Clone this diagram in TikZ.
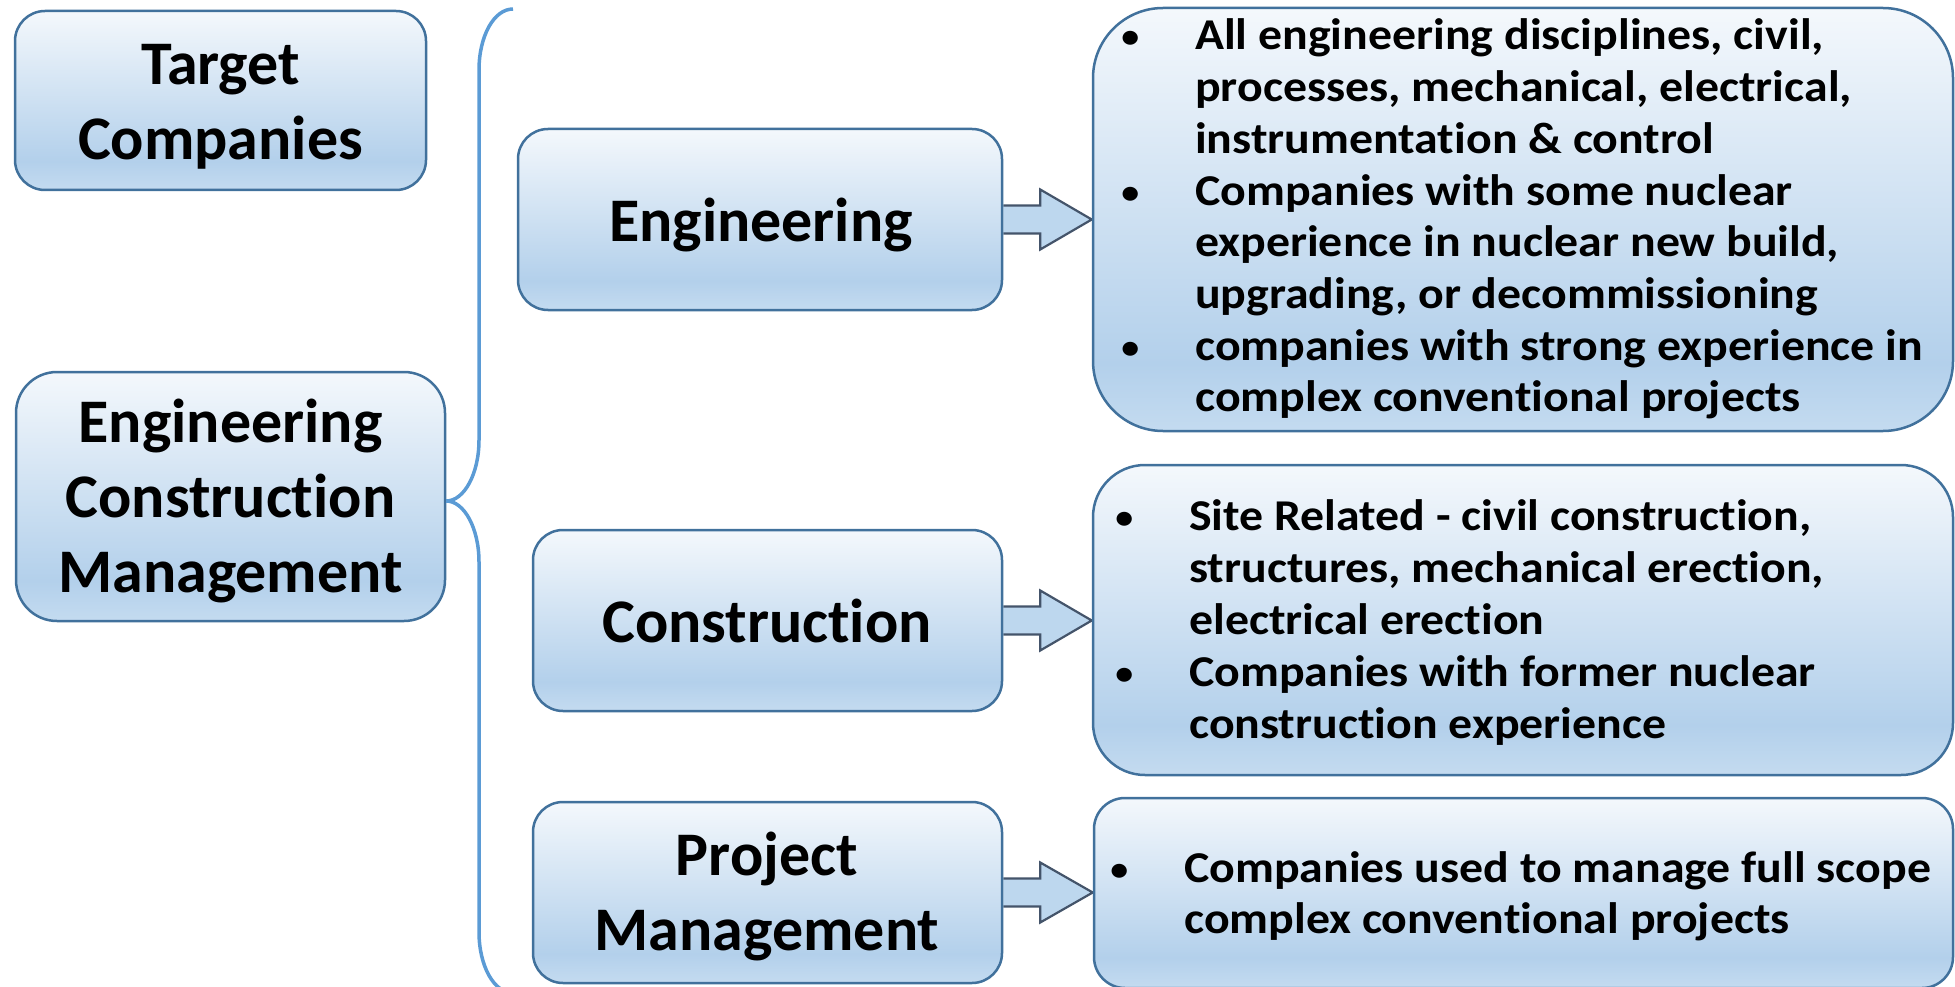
\documentclass[tikz,border=0pt]{standalone}
\usepackage{fontspec}
\setmainfont[Ligatures=NoCommon]{Carlito}
\newfontfamily\listfont[FakeStretch=1.087,Ligatures=NoCommon]{Carlito}
\usetikzlibrary{calc}
\definecolor{gTop}{HTML}{F4F8FC}
\definecolor{gMid}{HTML}{B3D0EB}
\definecolor{gBot}{HTML}{C4DBF0}
\definecolor{edgec}{HTML}{41719C}
\definecolor{bracec}{HTML}{5B9BD5}
\definecolor{arrfill}{HTML}{BDD7EE}
\definecolor{arredge}{HTML}{44546A}
\pgfdeclareverticalshading{boxgrad}{100bp}{color(0bp)=(gBot); color(25bp)=(gBot); color(33bp)=(gMid); color(75bp)=(gTop); color(100bp)=(gTop)}
\pgfdeclarelayer{bg}
\pgfsetlayers{bg,main}
\newcommand\bulmark{\makebox[65pt][l]{\makebox[0pt]{\raisebox{2pt}{\fontsize{33}{33}\selectfont •}}}}
\newcommand\contind{\hspace*{65pt}}
\tikzset{
 box/.style={draw=edgec, line width=2.5pt, shading=boxgrad, inner sep=0pt},
 bigtxt/.style={font=\fontsize{62}{75}\selectfont\bfseries, anchor=base, inner sep=0pt},
 listtxt/.style={font=\listfont\fontsize{44}{51.7}\selectfont\bfseries, anchor=base west, inner sep=0pt},
 blockarrow/.style={draw=arredge, fill=arrfill, line width=2.2pt, line join=miter},
 bracestyle/.style={draw=bracec, line width=3.5pt}
}
\begin{document}
\begin{tikzpicture}[x=1pt,y=-1pt]
\useasboundingbox (0,0) rectangle (1955,987);
% boxes
\node[box, rounded corners=30pt, minimum width=411pt, minimum height=179pt] (tc) at (220.5,100.5) {};
\node[box, rounded corners=41pt, minimum width=429pt, minimum height=249pt] (ecm) at (230.5,496.5) {};
\node[box, rounded corners=30pt, minimum width=484pt, minimum height=181pt] (eng) at (760,219.5) {};
\node[box, rounded corners=30pt, minimum width=469pt, minimum height=181pt] (con) at (767.5,620.5) {};
\node[box, rounded corners=30pt, minimum width=469pt, minimum height=181pt] (pm) at (767.5,892.5) {};
\node[box, rounded corners=70pt, minimum width=860pt, minimum height=423pt] (d1) at (1523,219.5) {};
\node[box, rounded corners=52pt, minimum width=860pt, minimum height=310pt] (d2) at (1523,620) {};
\node[box, rounded corners=31pt, minimum width=859pt, minimum height=190pt] (d3) at (1523.5,893) {};
% texts
\node[bigtxt] (tct) at (220.5,85) {\begin{tabular}[t]{@{}c@{}}Target\\Companies\end{tabular}};
\node[bigtxt] (ecmt) at (230.5,442) {\begin{tabular}[t]{@{}c@{}}Engineering\\Construction\\Management\end{tabular}};
\node[bigtxt] (engt) at (761,242) {Engineering};
\node[bigtxt] (cont) at (767,642) {Construction};
\node[bigtxt] (pmt) at (767,875) {\begin{tabular}[t]{@{}c@{}}Project\\Management\end{tabular}};
\node[listtxt] (d1t) at (1130,50) {\begin{tabular}[t]{@{}l@{}}
\bulmark All engineering disciplines, civil,\\
\contind processes, mechanical, electrical,\\
\contind instrumentation \& control\\
\bulmark Companies with some nuclear\\
\contind experience in nuclear new build,\\
\contind upgrading, or decommissioning\\
\bulmark companies with strong experience in\\
\contind complex conventional projects\end{tabular}};
\node[listtxt, font=\listfont\fontsize{44}{52}\selectfont\bfseries] (d2t) at (1124,530) {\begin{tabular}[t]{@{}l@{}}
\bulmark Site Related - civil construction,\\
\contind structures, mechanical erection,\\
\contind electrical erection\\
\bulmark Companies with former nuclear\\
\contind construction experience\end{tabular}};
\node[listtxt, font=\listfont\fontsize{44}{51}\selectfont\bfseries] (d3t) at (1119,882) {\begin{tabular}[t]{@{}l@{}}
\bulmark Companies used to manage full scope\\
\contind complex conventional projects\end{tabular}};
% block arrows
\begin{pgfonlayer}{bg}
\foreach \a/\b in {eng/d1, con/d2, pm/d3}{
  \draw[blockarrow] ($(\a.east)+(0,-14)$) -- ++(37,0) -- ++(0,-16) -- (\a.east -| \b.west) -- ($(\a.east)+(37,30)$) -- ++(0,-16) -- ($(\a.east)+(0,14)$);
}
\end{pgfonlayer}
% brace
\coordinate (btop) at (513,9);
\coordinate (btip) at ($(ecm.east)+(0,4.5)$);
\coordinate (bbot) at (513,993);
\draw[bracestyle] (btop) .. controls (494,9) and (479,36) .. (479,70) -- (479,440) .. controls (479,474) and (464,501) .. (btip) .. controls (464,501) and (479,528) .. (479,562) -- (479,932) .. controls (479,966) and (494,993) .. (bbot);
\end{tikzpicture}
\end{document}
